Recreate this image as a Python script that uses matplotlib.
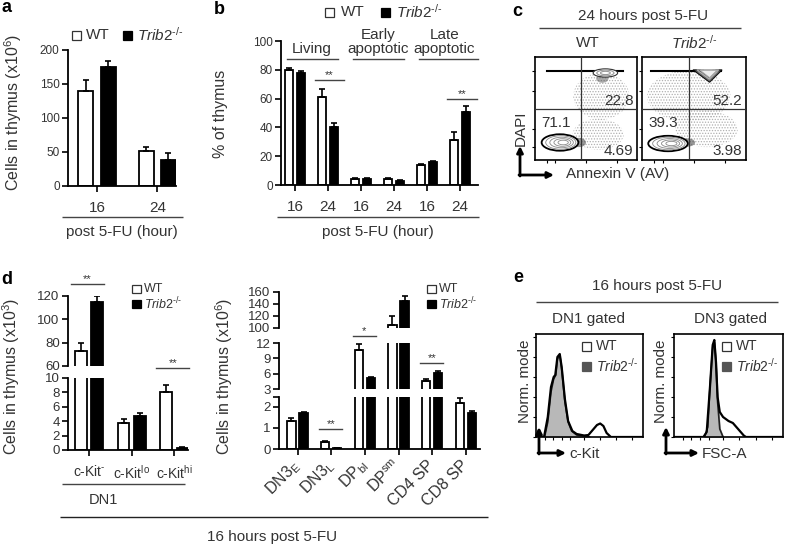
import matplotlib
matplotlib.use('Agg')
import matplotlib.pyplot as plt
from matplotlib.patches import Rectangle, Ellipse, Polygon
import numpy as np

plt.rcParams['font.family'] = ['Liberation Sans', 'DejaVu Sans']
plt.rcParams['mathtext.fontset'] = 'custom'
plt.rcParams['mathtext.rm'] = 'Liberation Sans'
plt.rcParams['mathtext.it'] = 'Liberation Sans:italic'
plt.rcParams['mathtext.bf'] = 'Liberation Sans:bold'
plt.rcParams['axes.linewidth'] = 1.3
plt.rcParams['hatch.linewidth'] = 0.6

W, H = 787, 545
TXT = '#333333'
TRIB = r'$\mathit{Trib2}^{\mathit{' + '\u2010/\u2010' + '}}$'

# ---------------- data ----------------
# panel a
a_ticks = ['16', '24']
a_wt = [140, 52]
a_wt_err = [16, 5]
a_ko = [175, 38]
a_ko_err = [9, 10]

# panel b
b_ticks = ['16', '24', '16', '24', '16', '24']
b_sets = ['Living', 'Early\napoptotic', 'Late\napoptotic']
b_wt = [80, 61, 4, 4.5, 14, 31]
b_wt_err = [1, 6, 1, 0.4, 0.5, 6]
b_ko = [78, 40, 4, 3, 16, 51]
b_ko_err = [1, 3, 0.6, 0.6, 1, 4]
b_sig = [(1, 73, '**'), (5, 60, '**')]

# panel c (quadrant percentages)
c_wt_q = ['22.8', '71.1', '4.69']
c_ko_q = ['52.2', '39.3', '3.98']

# panel d left (x10^3)
d1_cats = [r'c-Kit$^{' + '\u2010' + '}$', r'c-Kit$^{\mathrm{lo}}$', r'c-Kit$^{\mathrm{hi}}$']
d1_wt = [73, 3.7, 8.0]
d1_wt_err = [7, 0.6, 1.0]
d1_ko = [115, 4.7, 0.3]
d1_ko_err = [5, 0.4, 0.1]
d1_sig = [(0, 130, '**', 'top'), (2, 11.4, '**', 'bot')]

# panel d right (x10^6)
d2_cats = [r'DN3$_{\mathrm{E}}$', r'DN3$_{\mathrm{L}}$', r'DP$_{\mathrm{bl}}$',
           r'DP$^{\mathrm{sm}}$', 'CD4 SP', 'CD8 SP']
d2_wt = [1.32, 0.34, 10.6, 105, 4.6, 2.18]
d2_wt_err = [0.16, 0.03, 1.3, 15, 0.3, 0.21]
d2_ko = [1.71, 0.03, 5.1, 145, 6.2, 1.71]
d2_ko_err = [0.05, 0.01, 0.3, 8, 0.35, 0.09]
d2_sig = [(1, 0.93, '**', 'bot'), (2, 13.4, '*', 'mid'), (4, 8.0, '**', 'mid')]

# panel e histograms (normalized x, normalized mode)
e1_ko_x = [0.08, 0.11, 0.14, 0.165, 0.185, 0.2, 0.222, 0.24, 0.27, 0.3, 0.333, 0.38, 0.45, 0.5]
e1_ko_y = [0.0, 0.15, 0.45, 0.58, 0.62, 0.78, 0.82, 0.68, 0.35, 0.15, 0.06, 0.02, 0.01, 0.0]
e1_wt_x = [0.0, 0.075, 0.11, 0.14, 0.165, 0.18, 0.2, 0.222, 0.24, 0.27, 0.3, 0.34, 0.38, 0.45,
           0.49, 0.53, 0.57, 0.6, 0.63, 0.66, 0.7, 1.0]
e1_wt_y = [0.0, 0.0, 0.2, 0.5, 0.6, 0.62, 0.8, 0.83, 0.7, 0.38, 0.16, 0.06, 0.03, 0.015,
           0.02, 0.07, 0.12, 0.135, 0.11, 0.04, 0.0, 0.0]
e2_ko_x = [0.28, 0.31, 0.33, 0.355, 0.37, 0.385, 0.40, 0.42, 0.45]
e2_ko_y = [0.0, 0.1, 0.5, 0.9, 0.95, 0.75, 0.35, 0.08, 0.0]
e2_wt_x = [0.0, 0.27, 0.30, 0.33, 0.355, 0.37, 0.385, 0.40, 0.42, 0.45, 0.50, 0.54, 0.60, 0.64, 0.66, 1.0]
e2_wt_y = [0.0, 0.0, 0.05, 0.5, 0.92, 0.97, 0.75, 0.4, 0.25, 0.2, 0.16, 0.14, 0.065, 0.015, 0.0, 0.0]

# ---------------- figure ----------------
fig = plt.figure(figsize=(W / 100, H / 100), dpi=100)
fig.patch.set_facecolor('white')


def px_axes(x0, y0, x1, y1):
    ax = fig.add_axes([x0 / W, 1 - y1 / H, (x1 - x0) / W, (y1 - y0) / H])
    ax.set_facecolor('none')
    return ax


def style_bar_axes(ax, bottom=True):
    for s in ['top', 'right']:
        ax.spines[s].set_visible(False)
    if not bottom:
        ax.spines['bottom'].set_visible(False)
        ax.tick_params(axis='x', bottom=False, labelbottom=False)
    ax.tick_params(axis='y', direction='out', length=4, width=1.2, labelsize=8.5,
                   labelcolor=TXT, pad=2)
    ax.tick_params(axis='x', direction='out', length=4, width=1.2, labelsize=11,
                   labelcolor=TXT)


def draw_bars(ax, wt, wte, ko, koe, off, w):
    x = np.arange(len(wt))
    z = np.zeros(len(wt))
    ax.bar(x - off, wt, w, color='white', edgecolor='black', lw=1.3, zorder=2)
    ax.bar(x + off, ko, w, color='black', edgecolor='black', lw=1.3, zorder=2)
    ax.errorbar(x - off, wt, yerr=[z, wte], fmt='none', ecolor='black', elinewidth=1.2,
                capsize=2.3, capthick=1.2, zorder=3)
    ax.errorbar(x + off, ko, yerr=[z, koe], fmt='none', ecolor='black', elinewidth=1.2,
                capsize=2.3, capthick=1.2, zorder=3)


def sig(ax, g, y, label, lo=0.4, hi=0.4):
    ax.plot([g - lo, g + hi], [y, y], color='#444444', lw=1.0, clip_on=False)
    ax.text(g + (hi - lo) / 2, y, label, ha='center', va='bottom', fontsize=8,
            color=TXT, clip_on=False)


# ---- panel a ----
axa = px_axes(68, 50, 176, 186)
draw_bars(axa, a_wt, a_wt_err, a_ko, a_ko_err, 0.185, 0.25)
axa.set_xlim(-0.483, 1.31)
axa.set_ylim(0, 200)
axa.set_yticks([0, 50, 100, 150, 200])
axa.set_xticks([0, 1])
axa.set_xticklabels(a_ticks)
style_bar_axes(axa)
axa.tick_params(axis='x', pad=7)

# ---- panel b ----
axb = px_axes(281, 41, 478, 185)
draw_bars(axb, b_wt, b_wt_err, b_ko, b_ko_err, 0.18, 0.26)
axb.set_xlim(-0.424, 5.545)
axb.set_ylim(0, 100)
axb.set_yticks([0, 20, 40, 60, 80, 100])
axb.set_xticks(np.arange(len(b_ticks)))
axb.set_xticklabels(b_ticks)
style_bar_axes(axb)
axb.tick_params(axis='x', pad=7)
for g, y, lab in b_sig:
    sig(axb, g, y, lab, 0.4, 0.5)
for i, name in enumerate(b_sets):
    c = 2 * i + 0.5
    axb.plot([c - 0.75, c + 0.8 + (0.25 if i == 2 else 0)], [87.5, 87.5], color='#444444',
             lw=1.0, clip_on=False)
    axb.text(c + 0.02, 89.5, name, ha='center', va='bottom', fontsize=11, color=TXT,
             linespacing=1.05)

# ---- panel d left (broken axis) ----
off1, w1 = 0.19, 0.27
d1_top = px_axes(68, 296, 188, 366)
d1_bot = px_axes(68, 378, 188, 450)
for ax in (d1_top, d1_bot):
    draw_bars(ax, d1_wt, d1_wt_err, d1_ko, d1_ko_err, off1, w1)
    ax.set_xlim(-0.494, 2.32)
d1_top.set_ylim(60, 120)
d1_top.set_yticks([60, 80, 100, 120])
d1_bot.set_ylim(0, 10)
d1_bot.set_yticks([0, 2, 4, 6, 8, 10])
d1_bot.set_xticks(np.arange(len(d1_cats)))
d1_bot.set_xticklabels(d1_cats)
style_bar_axes(d1_top, bottom=False)
style_bar_axes(d1_bot)
d1_bot.tick_params(axis='x', labelsize=10, pad=6)
for ax in (d1_top, d1_bot):
    ax.tick_params(axis='y', labelsize=9.5)
for g, y, lab, seg in d1_sig:
    sig(d1_top if seg == 'top' else d1_bot, g, y, lab, 0.42, 0.35)

# ---- panel d right (two breaks) ----
off2, w2 = 0.18, 0.25
d2_t = px_axes(279, 292, 480, 328)
d2_m = px_axes(279, 343, 480, 389)
d2_b = px_axes(279, 397, 480, 449)
for ax in (d2_t, d2_m, d2_b):
    draw_bars(ax, d2_wt, d2_wt_err, d2_ko, d2_ko_err, off2, w2)
    ax.set_xlim(-0.55, 5.42)
d2_t.set_ylim(100, 160)
d2_t.set_yticks([100, 120, 140, 160])
d2_m.set_ylim(3, 12)
d2_m.set_yticks([3, 6, 9, 12])
d2_b.set_ylim(0, 2.45)
d2_b.set_yticks([0, 1, 2, 2.45])
d2_b.set_yticklabels(['0', '1', '2', ''])
style_bar_axes(d2_t, bottom=False)
style_bar_axes(d2_m, bottom=False)
style_bar_axes(d2_b)
for ax in (d2_t, d2_m, d2_b):
    ax.tick_params(axis='y', labelsize=9.5)
d2_b.set_xticks(np.arange(len(d2_cats)))
d2_b.set_xticklabels(d2_cats, rotation=45, ha='right', va='center',
                     rotation_mode='anchor')
d2_b.tick_params(axis='x', labelsize=11.5, pad=6)
segmap = {'bot': d2_b, 'mid': d2_m, 'top': d2_t}
for g, y, lab, seg in d2_sig:
    sig(segmap[seg], g, y, lab, 0.36, 0.33)


# ---- panel c (flow plots) ----
def flow(ax, q, bl, tail, streak, clouds, blob):
    ax.set_xlim(0, 1)
    ax.set_ylim(0, 1)
    for cx, cy, cw, ch in clouds:
        ax.add_patch(Ellipse((cx, cy), cw, ch, facecolor='none', edgecolor='#b0b0b0',
                             hatch='......', lw=0, zorder=1))
    cx, cy, cw, ch = tail
    ax.add_patch(Ellipse((cx, cy), cw, ch, facecolor='#444444', edgecolor='none',
                         alpha=0.55, zorder=2))
    cx, cy, cw, ch = bl
    for k, s in enumerate([1.0, 0.82, 0.64, 0.46, 0.28]):
        ax.add_patch(Ellipse((cx + (1 - s) * cw * 0.12, cy), cw * s, ch * s,
                             facecolor='white' if k == 0 else 'none',
                             edgecolor='black' if k == 0 else '#888888',
                             lw=1.3 if k == 0 else 0.6, zorder=3))
    x0, x1, ys = streak
    ax.plot([x0, x1], [ys, ys], color='black', lw=1.5, zorder=3)
    blob(ax)
    ax.axvline(0.45, color='#333333', lw=0.9, zorder=4)
    ax.axhline(0.5, color='#333333', lw=0.9, zorder=4)
    ax.text(0.965, 0.575, q[0], transform=ax.transAxes, ha='right', va='center',
            fontsize=11, color=TXT, zorder=5)
    ax.text(0.06, 0.36, q[1], transform=ax.transAxes, ha='left', va='center',
            fontsize=11, color=TXT, zorder=5)
    ax.text(0.965, 0.085, q[2], transform=ax.transAxes, ha='right', va='center',
            fontsize=11, color=TXT, zorder=5)
    ax.set_xticks([0.12, 0.2, 0.5, 0.8])
    ax.set_yticks([0.13, 0.3, 0.67, 0.86])
    ax.tick_params(length=2.5, width=0.8, labelbottom=False, labelleft=False)
    for s in ax.spines.values():
        s.set_linewidth(1.2)


def blob_wt(ax):
    for k, s in enumerate([1.0, 0.7, 0.4]):
        ax.add_patch(Ellipse((0.69, 0.845), 0.24 * s, 0.08 * s, facecolor='white' if k == 0 else 'none',
                             edgecolor='#333333' if k == 0 else '#999999', lw=0.8, zorder=3))
    ax.add_patch(Ellipse((0.66, 0.79), 0.12, 0.08, facecolor='#555555', edgecolor='none',
                         alpha=0.5, zorder=2))


def blob_ko(ax):
    for k, s in enumerate([1.0, 0.75, 0.5, 0.28]):
        cx = 0.64
        pts = [(cx - 0.15 * s, 0.875), (cx + 0.13 * s, 0.875), (cx + 0.01 * s, 0.875 - 0.12 * s)]
        ax.add_patch(Polygon(pts, closed=True, facecolor='#666666' if k == 0 else 'none',
                             edgecolor='black' if k == 0 else '#bbbbbb', lw=0.8, zorder=3,
                             alpha=0.9))
    ax.add_patch(Polygon([(0.56, 0.87), (0.72, 0.87), (0.65, 0.8)], closed=True,
                         facecolor='#eeeeee', edgecolor='#aaaaaa', lw=0.6, zorder=3))


axc1 = px_axes(535, 57, 637, 160)
flow(axc1, c_wt_q, (0.245, 0.17, 0.36, 0.16), (0.43, 0.17, 0.14, 0.09), (0.12, 0.86, 0.865),
     [(0.65, 0.62, 0.55, 0.45), (0.62, 0.25, 0.5, 0.3)], blob_wt)
axc2 = px_axes(642, 57, 746, 160)
flow(axc2, c_ko_q, (0.25, 0.16, 0.38, 0.15), (0.44, 0.17, 0.14, 0.08), (0.09, 0.76, 0.865),
     [(0.45, 0.62, 0.8, 0.5), (0.62, 0.3, 0.6, 0.35)], blob_ko)


# ---- panel e (histograms) ----
def hist(ax, kx, ky, wx, wy):
    ax.set_xlim(0, 1)
    ax.set_ylim(0, 1.03)
    ax.fill_between(kx, ky, color='#b8b8b8', zorder=1)
    ax.plot(kx, ky, color='#222222', lw=1.2, zorder=2)
    ax.plot(wx, wy, color='black', lw=1.6, zorder=3)
    ax.set_yticks([0, 0.2, 0.4, 0.6, 0.8, 1.0])
    ax.set_xticks([0.08, 0.16, 0.24, 0.32, 0.45, 0.6, 0.75, 0.9])
    ax.tick_params(length=2.5, width=0.8, labelbottom=False, labelleft=False)
    for s in ax.spines.values():
        s.set_linewidth(1.2)


axe1 = px_axes(536, 334, 643, 437)
hist(axe1, e1_ko_x, e1_ko_y, e1_wt_x, e1_wt_y)
axe2 = px_axes(674, 334, 783, 437)
hist(axe2, e2_ko_x, e2_ko_y, e2_wt_x, e2_wt_y)

# ---------------- overlay (figure-pixel annotations) ----------------
ov = fig.add_axes([0, 0, 1, 1])
ov.set_xlim(0, W)
ov.set_ylim(H, 0)
ov.axis('off')
ov.patch.set_alpha(0)


def T(x, y, s, fs=11, ha='center', va='center', **kw):
    ov.text(x, y, s, fontsize=fs, ha=ha, va=va, color=kw.pop('color', TXT), **kw)


def L(x0, x1, y, lw=1.0, color='#444444'):
    ov.plot([x0, x1], [y, y], color=color, lw=lw, solid_capstyle='butt')


def legend_item(xs, yc, size, fc, xt, label, fs):
    ov.add_patch(Rectangle((xs, yc - size / 2), size, size, facecolor=fc,
                           edgecolor='#333333' if fc == 'white' else fc, lw=0.9))
    T(xt, yc, label, fs=fs, ha='left')


def corner_arrow(x, y, up, right, lw=2.0):
    ov.annotate('', xy=(x, up), xytext=(x, y + 1),
                arrowprops=dict(arrowstyle='-|>', lw=lw, color='black', mutation_scale=9,
                                shrinkA=0, shrinkB=0))
    ov.annotate('', xy=(right, y), xytext=(x - 1, y),
                arrowprops=dict(arrowstyle='-|>', lw=lw, color='black', mutation_scale=9,
                                shrinkA=0, shrinkB=0))


# panel letters
for lab, x, y in [('a', 2, 7), ('b', 214, 9), ('c', 512, 11), ('d', 1, 279), ('e', 513, 277)]:
    T(x, y, lab, fs=13, ha='left', weight='bold', color='black')

# panel a texts
legend_item(72, 35, 9, 'white', 86, 'WT', 11)
legend_item(123, 35, 9, 'black', 137, TRIB, 11)
T(13, 112, r'Cells in thymus (x10$^{6}$)', fs=11.5, rotation=90)
L(62, 183, 217)
T(122, 232, 'post 5-FU (hour)', fs=11)

# panel b texts
legend_item(325, 12, 9, 'white', 341, 'WT', 11)
legend_item(381, 12, 9, 'black', 396, TRIB, 11)
T(221, 114, '% of thymus', fs=11.5, rotation=90)
L(277, 479, 217)
T(378, 232, 'post 5-FU (hour)', fs=11)

# panel c texts
T(643, 16, '24 hours post 5-FU', fs=11)
L(539, 741, 28)
T(588, 43, 'WT', fs=11)
T(694, 43, TRIB, fs=11)
corner_arrow(520, 175, 146, 554)
T(521, 128, 'DAPI', fs=11, rotation=90)
T(566, 174, 'Annexin V (AV)', fs=11, ha='left')

# panel d texts
legend_item(132, 289, 8.5, 'white', 144, 'WT', 9)
legend_item(132, 304, 8.5, 'black', 144, TRIB, 9)
legend_item(427, 289, 8.5, 'white', 439, 'WT', 9)
legend_item(427, 304, 8.5, 'black', 439, TRIB, 9)
T(11, 376, r'Cells in thymus (x10$^{3}$)', fs=11.5, rotation=90)
T(224, 376, r'Cells in thymus (x10$^{6}$)', fs=11.5, rotation=90)
L(62, 185, 484)
T(103, 500, 'DN1', fs=10.5)
L(60, 488, 517, color='#222222')
T(272, 537, '16 hours post 5-FU', fs=11)

# panel e texts
T(657, 286, '16 hours post 5-FU', fs=11)
L(536, 778, 302)
T(589, 319, 'DN1 gated', fs=11)
T(730, 319, 'DN3 gated', fs=11)
legend_item(582, 346, 9, 'white', 596, 'WT', 10)
legend_item(582, 366, 9, '#555555', 596, TRIB, 10)
legend_item(722, 346, 9, 'white', 736, 'WT', 10)
legend_item(722, 366, 9, '#555555', 736, TRIB, 10)
T(525, 381, 'Norm. mode', fs=11, rotation=90)
T(661, 381, 'Norm. mode', fs=11, rotation=90)
corner_arrow(539, 453, 427, 566)
T(569, 454, 'c-Kit', fs=11, ha='left')
corner_arrow(666, 453, 427, 699)
T(702, 454, 'FSC-A', fs=11, ha='left')

fig.savefig('out.png', dpi=100, facecolor='white')
